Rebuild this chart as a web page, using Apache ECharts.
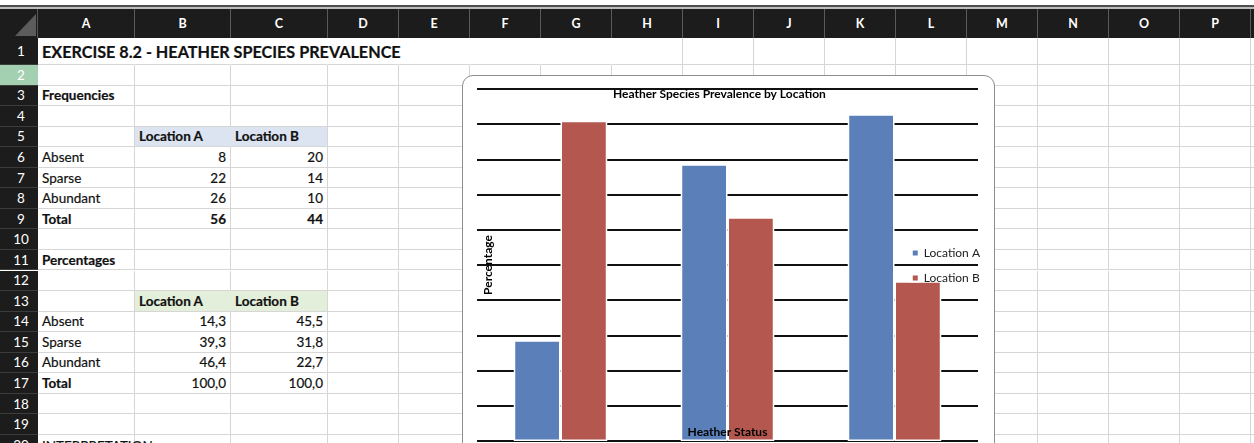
<!DOCTYPE html>
<html>
<head>
<meta charset="utf-8">
<script src="https://cdn.jsdelivr.net/npm/echarts@6/dist/echarts.min.js"></script>
<style>
  html, body { margin: 0; padding: 0; background: #fff; }
  body { width: 1254px; height: 443px; overflow: hidden; position: relative; font-family: Lato, "Open Sans", sans-serif; }
  .abs { position: absolute; box-sizing: border-box; }
  .cell { position: absolute; box-sizing: border-box; border-right: 1px solid #d6d6d6; border-bottom: 1px solid #d6d6d6;
          font-size: 13.5px; color: #111; white-space: nowrap; padding: 0 4px; display: flex; align-items: center; overflow: visible;
          -webkit-text-stroke: 0.2px #111; }
  .hdr { position: absolute; box-sizing: border-box; background: #1c1c1c; color: #fff; font-size: 12.5px; font-weight: bold;
         display: flex; align-items: center; justify-content: center; }
  #frame { position: absolute; left: 462px; top: 75px; width: 533px; height: 402px; border: 1px solid #8e8e8e;
           border-radius: 11px; background: #fff; box-sizing: border-box; overflow: hidden; }
  #chart { position: absolute; left: 0; top: 0; width: 531px; height: 400px; }
</style>
</head>
<body>
<div class="abs" style="left:0;top:5px;width:1254px;height:2px;background:#4d4d4d"></div>
<div class="abs" style="left:0;top:7px;width:1254px;height:2px;background:#bdbdbd"></div>
<div id="sheet"></div>
<div id="frame"><div id="chart"></div></div>
<script>
// sheet data
const sheetTitle = "EXERCISE 8.2 - HEATHER SPECIES PREVALENCE";
const categories = ["Absent", "Sparse", "Abundant"];
const seriesNames = ["Location A", "Location B"];
const freqA = [8, 22, 26];
const freqB = [20, 14, 10];
const freqTotal = [56, 44];
const pctA = [14.3, 39.3, 46.4];
const pctB = [45.5, 31.8, 22.7];
const pctTotal = [100.0, 100.0];
const chartTitle = "Heather Species Prevalence by Location";
const colLetters = ["A","B","C","D","E","F","G","H","I","J","K","L","M","N","O","P",""];
const colEdges = [38, 135, 231, 328, 399, 470, 541, 612, 683, 754, 825, 896, 967, 1038, 1109, 1180, 1251, 1330];

function rowTop(r) { return r === 1 ? 38 : 65 + (r - 2) * 20.55; }
const nRows = 21;
const sheet = document.getElementById("sheet");
const fmt = v => v.toFixed(1).replace(".", ",");

// cell contents: [row, col, text, opts]
const cells = [
  [1, 0, sheetTitle, { bold: true, size: 16.2 }],
  [3, 0, "Frequencies", { bold: true }],
  [5, 1, seriesNames[0], { bold: true, fill: "#dce4f2" }],
  [5, 2, seriesNames[1], { bold: true, fill: "#dce4f2" }],
  [9, 0, "Total", { bold: true }],
  [9, 1, String(freqTotal[0]), { bold: true, right: true }],
  [9, 2, String(freqTotal[1]), { bold: true, right: true }],
  [11, 0, "Percentages", { bold: true }],
  [13, 1, seriesNames[0], { bold: true, fill: "#e3efdb" }],
  [13, 2, seriesNames[1], { bold: true, fill: "#e3efdb" }],
  [17, 0, "Total", { bold: true }],
  [17, 1, fmt(pctTotal[0]), { right: true }],
  [17, 2, fmt(pctTotal[1]), { right: true }],
  [20, 0, "INTERPRETATION", {}]
];
categories.forEach((c, i) => {
  cells.push([6 + i, 0, c, {}], [6 + i, 1, String(freqA[i]), { right: true }], [6 + i, 2, String(freqB[i]), { right: true }]);
  cells.push([14 + i, 0, c, {}], [14 + i, 1, fmt(pctA[i]), { right: true }], [14 + i, 2, fmt(pctB[i]), { right: true }]);
});
const lookup = {};
cells.forEach(c => { lookup[c[0] + "_" + c[1]] = c; });

let html = "";
// column header row
html += '<div class="hdr" style="left:0;top:9px;width:38px;height:29px;border-right:1px solid #555"></div>';
html += '<div class="abs" style="left:15px;top:14px;width:21px;height:22px;background:#5c5c5c;clip-path:polygon(100% 0,100% 100%,0 100%)"></div>';
for (let c = 0; c < colLetters.length; c++) {
  const x = colEdges[c], w = colEdges[c + 1] - x;
  html += `<div class="hdr" style="left:${x}px;top:9px;width:${w}px;height:29px;border-right:1px solid #5a5a5a">${colLetters[c]}</div>`;
}
for (let r = 1; r <= nRows; r++) {
  const y = rowTop(r), h = rowTop(r + 1) - y;
  const bg = r === 2 ? "#a2d0b0" : "#1c1c1c";
  html += `<div class="hdr" style="left:0;top:${y}px;width:38px;height:${h}px;background:${bg};font-weight:normal;font-size:13.5px;border-bottom:1px solid #3c3c3c;padding-left:4px">${r}</div>`;
  for (let c = 0; c < colLetters.length; c++) {
    const x = colEdges[c], w = colEdges[c + 1] - x;
    const cell = lookup[r + "_" + c];
    const o = cell ? cell[3] : {};
    let style = `left:${x}px;top:${y}px;width:${w}px;height:${h}px;`;
    if (r === 1 && c < 7) style += "border-right-color:transparent;";
    if (o.fill) style += `background:${o.fill};` + (c === 1 ? `border-right-color:${o.fill};` : "");
    if (o.bold) style += "font-weight:bold;";
    if (o.size) style += `font-size:${o.size}px;`;
    if (o.right) style += "justify-content:flex-end;";
    if (r === 20) style += "align-items:flex-start;padding-top:3px;";
    html += `<div class="cell" style="${style}">${cell ? cell[2] : ""}</div>`;
  }
}
sheet.innerHTML = html;

// chart
const chart = echarts.init(document.getElementById("chart"));
const font = "Lato, 'Open Sans', sans-serif";
const option = {
  animation: false,
  title: {
    text: chartTitle,
    left: 150,
    top: 12,
    padding: 0,
    textStyle: { fontFamily: font, fontSize: 12, fontWeight: "bold", color: "#000" }
  },
  legend: {
    data: seriesNames,
    orient: "vertical",
    right: 14,
    top: 171,
    padding: 0,
    icon: "rect",
    itemWidth: 7,
    itemHeight: 7,
    itemGap: 13,
    textStyle: { fontFamily: font, fontSize: 12, color: "#222" }
  },
  grid: { left: 14, right: 16, top: 13, bottom: 35, outerBoundsMode: "none" },
  xAxis: {
    type: "category",
    data: categories,
    z: 5,
    name: "Heather Status",
    nameLocation: "middle",
    nameGap: -15,
    nameMoveOverlap: false,
    nameTextStyle: { fontFamily: font, fontSize: 12, fontWeight: "bold", color: "#000" },
    axisLine: { show: false },
    axisTick: { show: false },
    axisLabel: { fontFamily: font, fontSize: 11, color: "#222" }
  },
  yAxis: {
    type: "value",
    min: 0,
    max: 50,
    interval: 5,
    name: "Percentage",
    nameLocation: "middle",
    nameRotate: 90,
    nameGap: -17,
    nameMoveOverlap: false,
    nameTextStyle: { fontFamily: font, fontSize: 12, fontWeight: "bold", color: "#000" },
    axisLabel: { show: false },
    axisLine: { show: false },
    axisTick: { show: false },
    splitLine: { lineStyle: { color: "#111", width: 2 } }
  },
  series: [
    {
      name: seriesNames[0],
      type: "bar",
      data: pctA,
      barGap: "0%",
      barCategoryGap: "44%",
      itemStyle: { color: "#5b80b9", borderColor: "#fff", borderWidth: 1.5 }
    },
    {
      name: seriesNames[1],
      type: "bar",
      data: pctB,
      itemStyle: { color: "#b3574f", borderColor: "#fff", borderWidth: 1.5 }
    }
  ]
};
chart.setOption(option);
</script>
</body>
</html>
